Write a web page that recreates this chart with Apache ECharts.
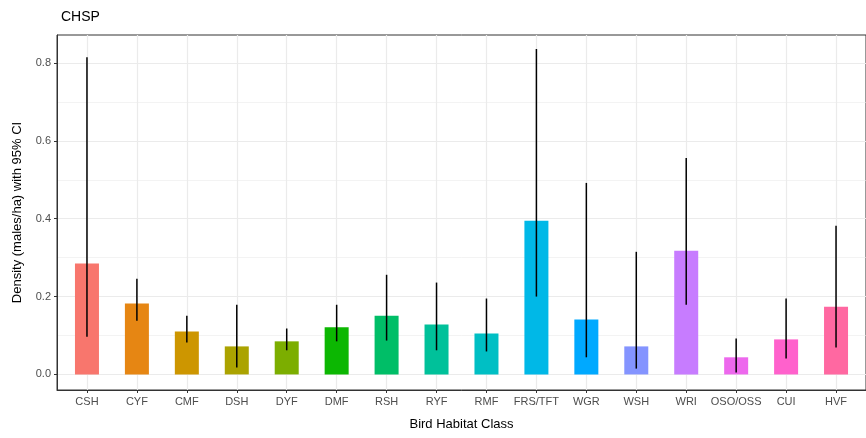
<!DOCTYPE html>
<html>
<head>
<meta charset="utf-8">
<script src="https://cdn.jsdelivr.net/npm/echarts@6/dist/echarts.min.js"></script>
<style>
  html, body { margin: 0; padding: 0; background: #fff; }
  #chart { width: 866px; height: 438px; }
</style>
</head>
<body>
<div id="chart"></div>
<script>
// habitat classes along the x axis
const categories = ['CSH', 'CYF', 'CMF', 'DSH', 'DYF', 'DMF', 'RSH', 'RYF', 'RMF',
  'FRS/TFT', 'WGR', 'WSH', 'WRI', 'OSO/OSS', 'CUI', 'HVF']
// density estimate (males/ha)
const density = [0.285, 0.182, 0.110, 0.072, 0.085, 0.121, 0.151, 0.128, 0.105,
  0.395, 0.141, 0.072, 0.318, 0.044, 0.090, 0.174]
// 95% CI bounds
const ciLow = [0.097, 0.138, 0.082, 0.018, 0.062, 0.085, 0.087, 0.062, 0.059,
  0.200, 0.044, 0.015, 0.179, 0.005, 0.041, 0.069]
const ciHigh = [0.815, 0.246, 0.151, 0.179, 0.118, 0.179, 0.256, 0.236, 0.195,
  0.836, 0.492, 0.315, 0.556, 0.092, 0.195, 0.382]
const yTicks = [0, 0.2, 0.4, 0.6, 0.8]
const yGrid = [0, 0.1, 0.2, 0.3, 0.4, 0.5, 0.6, 0.7, 0.8]

// ggplot default hue palette for 16 groups
const colors = ['#F8766D', '#E68613', '#CD9600', '#ABA300', '#7CAE00', '#0CB702',
  '#00BE67', '#00C19A', '#00BFC4', '#00B8E7', '#00A9FF', '#8494FF', '#C77CFF',
  '#ED68ED', '#FF61CC', '#FF68A1']

const xIdx = categories.map((c, i) => i)

const chart = echarts.init(document.getElementById('chart'))

// panel grid lines (theme_bw style), drawn below the bars
const gridLines = [
  ...yGrid.map(v => ({
    yAxis: v,
    lineStyle: { color: '#EBEBEB', width: (Math.round(v * 10) % 2 === 0) ? 1.2 : 0.6, type: 'solid' }
  })),
  ...xIdx.map(i => ({
    xAxis: i,
    lineStyle: { color: '#EBEBEB', width: 1.2, type: 'solid' }
  }))
]

const option = {
  animation: false,
  title: {
    text: 'CHSP',
    left: 56,
    top: 5,
    textStyle: { fontFamily: 'Liberation Sans', fontSize: 14, fontWeight: 'normal', color: '#000' }
  },
  grid: {
    left: 57,
    right: -3,
    top: 35,
    bottom: 48,
    show: true,
    borderColor: '#333',
    borderWidth: 1
  },
  xAxis: {
    type: 'value',
    min: -0.6,
    max: 15.6,
    name: 'Bird Habitat Class',
    nameLocation: 'middle',
    nameGap: 28,
    nameTextStyle: { fontFamily: 'Liberation Sans', fontSize: 13, color: '#000' },
    axisLine: { onZero: false, lineStyle: { color: '#333' } },
    axisTick: { show: true, length: 3, customValues: xIdx, lineStyle: { color: '#333' } },
    axisLabel: {
      customValues: xIdx,
      margin: 6,
      fontFamily: 'Liberation Sans',
      fontSize: 11,
      color: '#4D4D4D',
      formatter: v => categories[Math.round(v)]
    },
    splitLine: { show: false }
  },
  yAxis: {
    type: 'value',
    min: -0.04,
    max: 0.872,
    name: 'Density (males/ha) with 95% CI',
    nameLocation: 'middle',
    nameGap: 33,
    nameTextStyle: { fontFamily: 'Liberation Sans', fontSize: 13, color: '#000' },
    axisLine: { show: true, onZero: false, lineStyle: { color: '#333' } },
    axisTick: { show: true, length: 3, customValues: yTicks, lineStyle: { color: '#333' } },
    axisLabel: {
      customValues: yTicks,
      margin: 6,
      fontFamily: 'Liberation Sans',
      fontSize: 11,
      color: '#4D4D4D',
      formatter: v => v.toFixed(1)
    },
    splitLine: { show: false }
  },
  series: [
    {
      type: 'line',
      data: [],
      z: 0,
      silent: true,
      markLine: { z: 0, silent: true, symbol: 'none', label: { show: false }, data: gridLines }
    },
    {
      type: 'bar',
      z: 2,
      barWidth: 24,
      data: density.map((v, i) => ({ value: [i, v], itemStyle: { color: colors[i] } }))
    },
    {
      type: 'custom',
      z: 3,
      data: xIdx.map(i => [i, ciLow[i], ciHigh[i]]),
      renderItem(params, api) {
        const lo = api.coord([api.value(0), api.value(1)])
        const hi = api.coord([api.value(0), api.value(2)])
        return {
          type: 'line',
          shape: { x1: lo[0], y1: lo[1], x2: hi[0], y2: hi[1] },
          style: { stroke: '#000', lineWidth: 1.5 }
        }
      }
    }
  ]
}

chart.setOption(option)
</script>
</body>
</html>
